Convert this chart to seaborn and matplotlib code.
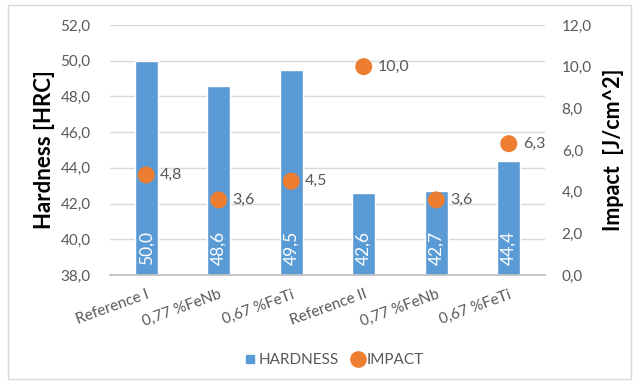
import matplotlib
matplotlib.use("Agg")
import matplotlib.pyplot as plt
import seaborn as sns
import pandas as pd
from matplotlib.lines import Line2D
from matplotlib.patches import Rectangle

categories = ["Reference I", "0,77 %FeNb", "0,67 %FeTi", "Reference II", "0,77 %FeNb", "0,67 %FeTi"]
hardness = [50.0, 48.6, 49.5, 42.6, 42.7, 44.4]
impact = [4.8, 3.6, 4.5, 10.0, 3.6, 6.3]
hardness_ticks = [38, 40, 42, 44, 46, 48, 50, 52]
impact_ticks = [0, 2, 4, 6, 8, 10, 12]

BLUE = "#5b9bd5"
ORANGE = "#ed7d31"
GREY = "#595959"

sns.set_theme(style="white")
plt.rcParams["font.family"] = ["Lato", "DejaVu Sans"]

def fmt(v):
    return f"{v:.1f}".replace(".", ",")

df = pd.DataFrame({"pos": list(range(len(categories))), "hardness": hardness, "impact": impact})

fig = plt.figure(figsize=(6.39, 3.84), dpi=100)
fig.patch.set_facecolor("white")
fig.patches.append(Rectangle((0.012, 0.012), 0.976, 0.975, transform=fig.transFigure,
                             fill=False, edgecolor="#d9d9d9", linewidth=1.0))
ax = fig.add_axes([0.172, 0.284, 0.681, 0.651])

# bars start at the axis floor (38), so draw the height above it and shift up
base = hardness_ticks[0]
sns.barplot(x=df["pos"], y=[h - base for h in hardness], color=BLUE, width=0.32,
            saturation=1, ax=ax, native_scale=True)
for p in ax.patches:
    p.set_y(base)
ax.set_xlim(-0.5, len(categories) - 0.5)
ax.set_ylim(hardness_ticks[0], hardness_ticks[-1])
ax.set_yticks(hardness_ticks)
ax.set_yticklabels([fmt(t) for t in hardness_ticks], color=GREY, fontsize=11)
ax.set_xticks(range(len(categories)))
ax.set_xticklabels(categories, rotation=20, ha="right", rotation_mode="anchor",
                   color=GREY, fontsize=11)
ax.tick_params(axis="y", length=0, pad=14)
ax.tick_params(axis="x", length=0, pad=9)
ax.grid(axis="y", color="#d9d9d9", linewidth=1.0)
ax.set_axisbelow(True)
for s in ["top", "left", "right"]:
    ax.spines[s].set_visible(False)
ax.spines["bottom"].set_color("#bfbfbf")
ax.set_xlabel("")
ax.set_ylabel("Hardness [HRC]", fontsize=16, fontweight="bold", color="black", labelpad=4)

for i, h in enumerate(hardness):
    ax.text(i, base + 0.55, fmt(h), rotation=90, ha="center", va="bottom",
            color="white", fontsize=12.5)

ax2 = ax.twinx()
sns.scatterplot(x=df["pos"], y=df["impact"], color=ORANGE, s=150, edgecolor="none",
                ax=ax2, zorder=3, legend=False)
ax2.set_ylim(impact_ticks[0], impact_ticks[-1])
ax2.set_yticks(impact_ticks)
ax2.set_yticklabels([fmt(t) for t in impact_ticks], color=GREY, fontsize=11)
ax2.tick_params(axis="y", length=0, pad=12)
for s in ["top", "left", "right", "bottom"]:
    ax2.spines[s].set_visible(False)
ax2.set_ylabel("Impact  [J/cm^2]", fontsize=15.5, fontweight="bold", color="black", labelpad=8)
ax2.set_xlim(-0.5, len(categories) - 0.5)

for i, v in enumerate(impact):
    ax2.annotate(fmt(v), (i, v), xytext=(10, 0), textcoords="offset points",
                 ha="left", va="center", color=GREY, fontsize=11.5)

handles = [Line2D([], [], marker="s", linestyle="none", color=BLUE, markersize=6),
           Line2D([], [], marker="o", linestyle="none", color=ORANGE, markersize=11)]
fig.legend(handles, ["HARDNESS", "IMPACT"], loc="center", bbox_to_anchor=(0.52, 0.062),
           ncol=2, frameon=False, fontsize=11, handletextpad=0.0, handlelength=1.2,
           columnspacing=0.6, labelcolor=GREY)

fig.savefig("out.png", dpi=100)
